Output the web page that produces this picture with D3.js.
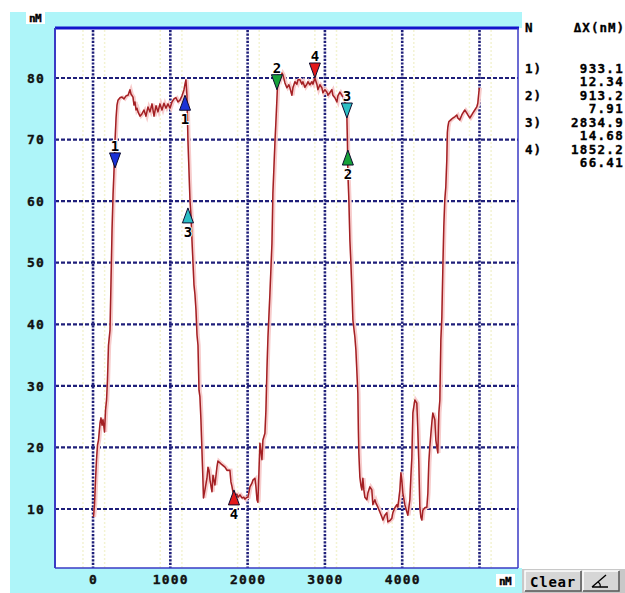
<!DOCTYPE html>
<html><head><meta charset="utf-8">
<script src="https://cdn.jsdelivr.net/npm/d3@7"></script>
<style>
html,body{margin:0;padding:0;background:#fff;}
svg{display:block;}
text{font-family:"DejaVu Sans Mono",monospace;font-weight:bold;}
</style>
</head><body>
<svg id="c" width="625" height="593"></svg>
<script>
// ---------- data ----------
const trace = [[6,8.7],[19,10.7],[32,14.7],[45,18.0],[58,20.4],[71,21.2],[91,24.0],[103,24.8],[116,23.6],[129,24.5],
[149,22.5],[162,26.1],[175,27.7],[187,31.0],[200,36.6],[220,39.1],[233,47.2],[246,55.3],[259,61.0],[272,65.1],
[285,69.9],[298,73.5],[310,75.6],[323,76.4],[349,76.8],[375,76.9],[401,76.6],[427,77.1],[453,77.2],[478,78.1],
[491,77.4],[517,76.9],[530,75.6],[543,76.1],[556,74.8],[569,75.1],[582,74.5],[608,73.8],[634,74.2],[659,74.8],
[685,73.8],[711,75.3],[737,74.5],[763,75.8],[789,73.8],[815,75.5],[840,74.5],[866,75.8],[892,74.8],[918,75.9],
[944,75.1],[970,75.8],[996,75.1],[1021,76.1],[1047,76.6],[1073,76.8],[1099,76.1],[1125,76.4],[1151,77.1],[1177,78.1],
[1190,79.0],[1202,79.7],[1215,77.2],[1228,69.9],[1241,65.1],[1254,60.2],[1267,57.8],[1280,53.7],[1293,50.1],[1306,46.4],
[1319,44.8],[1332,42.3],[1345,38.3],[1358,36.6],[1371,29.3],[1383,28.2],[1396,24.5],[1409,19.6],[1422,14.7],[1429,11.8],
[1448,13.1],[1474,15.0],[1487,16.8],[1500,16.3],[1513,14.7],[1539,12.8],[1552,15.5],[1577,13.9],[1603,16.8],[1616,17.8],
[1642,17.5],[1668,17.2],[1707,16.8],[1733,16.3],[1771,16.3],[1784,14.4],[1797,13.7],[1810,12.8],[1836,12.3],[1862,12.4],
[1875,11.9],[1901,12.3],[1927,11.8],[1952,11.9],[1965,11.6],[1991,11.9],[2004,11.9],[2030,13.6],[2056,14.2],[2069,14.7],
[2095,15.0],[2108,13.6],[2121,11.5],[2133,11.1],[2140,13.6],[2159,20.7],[2185,18.0],[2198,21.2],[2224,22.3],[2237,26.1],
[2250,32.6],[2263,37.9],[2289,45.1],[2315,53.2],[2327,61.3],[2353,69.4],[2373,74.8],[2386,78.5],[2392,80.5],[2418,79.7],
[2444,80.8],[2457,80.5],[2483,79.2],[2508,78.4],[2534,78.9],[2547,78.4],[2573,77.2],[2586,78.4],[2612,79.4],[2638,79.0],
[2651,79.7],[2677,79.7],[2702,79.0],[2715,79.4],[2741,78.5],[2767,79.0],[2780,79.4],[2806,78.9],[2832,79.4],[2845,79.0],
[2870,80.0],[2896,79.0],[2909,78.1],[2935,78.9],[2961,78.4],[2974,77.6],[3000,78.1],[3026,77.7],[3039,77.2],[3064,77.6],
[3090,78.1],[3103,77.2],[3129,76.8],[3155,76.1],[3168,77.1],[3194,77.7],[3220,77.2],[3233,76.8],[3258,76.1],[3284,73.7],
[3291,69.9],[3297,64.6],[3310,60.2],[3323,53.7],[3336,50.0],[3349,45.6],[3362,40.7],[3388,37.9],[3401,35.8],[3426,28.8],
[3433,22.8],[3439,19.1],[3452,15.2],[3465,13.9],[3478,13.1],[3491,15.0],[3504,13.1],[3517,11.9],[3543,11.5],[3556,12.6],
[3582,13.6],[3607,13.1],[3620,10.7],[3646,11.5],[3659,11.0],[3685,10.3],[3711,9.5],[3737,8.7],[3750,8.2],[3776,9.0],
[3801,9.4],[3814,7.9],[3840,8.1],[3866,8.5],[3879,9.4],[3905,10.2],[3931,10.7],[3944,10.3],[3970,13.1],[3983,15.9],
[3995,14.7],[4008,12.6],[4034,10.7],[4060,9.5],[4073,9.0],[4099,11.5],[4112,15.2],[4125,18.4],[4138,25.6],[4163,27.7],
[4189,27.2],[4202,22.8],[4215,17.5],[4228,10.3],[4241,8.7],[4254,8.2],[4267,9.8],[4293,10.2],[4319,10.3],[4332,12.6],
[4344,17.5],[4357,20.1],[4383,24.0],[4396,25.6],[4422,24.5],[4435,21.2],[4448,20.1],[4461,19.1],[4474,25.6],[4487,27.7],
[4500,37.5],[4513,41.2],[4526,49.3],[4538,55.8],[4551,60.2],[4564,62.3],[4577,66.7],[4584,71.1],[4590,72.0],[4603,72.9],
[4629,73.2],[4655,73.5],[4681,73.7],[4707,74.0],[4719,73.5],[4745,73.2],[4771,74.0],[4784,74.3],[4810,74.8],[4836,74.3],
[4849,74.0],[4875,73.5],[4900,74.0],[4913,74.3],[4939,74.8],[4965,75.3],[4978,75.9],[4991,77.6],[4998,78.4]];

const xTickValues = [0, 1000, 2000, 3000, 4000];
const xGridValues = [0, 1000, 2000, 3000, 4000, 5000];
const yTickValues = [10, 20, 30, 40, 50, 60, 70, 80];
const xDomain = [-492, 5498];
const yDomain = [0.42, 88.12];

const markerIds  = [1, 1, 2, 2, 3, 3, 4, 4];
const markerDirs = ["down", "up", "down", "up", "down", "up", "down", "up"];
const markerX    = [285, 1190, 2379, 3297, 3284, 1228, 2870, 1823];
const markerY    = [65.4, 77.2, 78.1, 68.3, 73.5, 58.9, 80.0, 13.1];

const legendIds = ["1)", "2)", "3)", "4)"];
const legendDX  = [933.1, 913.2, 2834.9, 1852.2];
const legendDY  = [12.34, 7.91, 14.68, 66.41];
const unitLabel = "nM";

// ---------- drawing ----------
const svg = d3.select("#c");
const W = 625, H = 593;
const P = {l: 55, t: 28, r: 518, b: 568};
const x = d3.scaleLinear().domain(xDomain).range([P.l, P.r]);
const y = d3.scaleLinear().domain(yDomain).range([P.b, P.t]);
const markerColor = {1: "#1a32d6", 2: "#17a23a", 3: "#2cbfc4", 4: "#e2191b"};

svg.append("rect").attr("width", W).attr("height", H).attr("fill", "#fff");
svg.append("rect").attr("x", 10).attr("y", 12).attr("width", 512).attr("height", H - 12).attr("fill", "#aef5f9");
svg.append("rect").attr("x", P.r).attr("y", P.t).attr("width", W - P.r).attr("height", P.b - P.t).attr("fill", "#fff");
svg.append("rect").attr("x", P.l).attr("y", P.t).attr("width", P.r - P.l).attr("height", P.b - P.t).attr("fill", "#fff");

// faint yellow helper lines next to vertical grid
const faint = svg.append("g");
xGridValues.forEach(v => {
  [-130, 150].forEach(o => {
    faint.append("line").attr("x1", x(v + o)).attr("x2", x(v + o)).attr("y1", P.t + 2).attr("y2", P.b)
      .attr("stroke", "#f3f3d2").attr("stroke-width", 1.5).attr("stroke-dasharray", "2,2");
  });
});

// grid
const grid = svg.append("g");
grid.selectAll(".hg").data(yTickValues).enter().append("line")
  .attr("x1", P.l).attr("x2", P.r).attr("y1", d => y(d)).attr("y2", d => y(d))
  .attr("stroke", "#1f1f7a").attr("stroke-width", 2.2).attr("stroke-dasharray", "4,2");
grid.selectAll(".vg").data(xGridValues).enter().append("line")
  .attr("x1", d => x(d)).attr("x2", d => x(d)).attr("y1", P.t + 2).attr("y2", P.b)
  .attr("stroke", "#1f1f7a").attr("stroke-width", 2.6).attr("stroke-dasharray", "2.2,1.4");

// curve
svg.append("clipPath").attr("id", "pc").append("rect")
  .attr("x", P.l).attr("y", P.t).attr("width", P.r - P.l).attr("height", P.b - P.t);
const line = d3.line().x(d => x(d[0])).y(d => y(d[1]));
const cg = svg.append("g").attr("clip-path", "url(#pc)");
cg.append("path").datum(trace).attr("d", line).attr("fill", "none")
  .attr("stroke", "#f7cccc").attr("stroke-width", 3.4).attr("transform", "translate(1,0)");
cg.append("path").datum(trace).attr("d", line).attr("fill", "none")
  .attr("stroke", "#a32024").attr("stroke-width", 1.5).attr("stroke-linejoin", "round");

// border
svg.append("line").attr("x1", P.l).attr("x2", P.r + 1).attr("y1", P.t).attr("y2", P.t).attr("stroke", "#1414cc").attr("stroke-width", 3);
svg.append("line").attr("x1", P.l).attr("x2", P.l).attr("y1", P.t).attr("y2", P.b).attr("stroke", "#3a3ac4").attr("stroke-width", 2);
svg.append("line").attr("x1", P.r).attr("x2", P.r).attr("y1", P.t).attr("y2", P.b).attr("stroke", "#3a3ac4").attr("stroke-width", 1.5);
svg.append("line").attr("x1", P.l).attr("x2", P.r).attr("y1", P.b).attr("y2", P.b).attr("stroke", "#3a3ac4").attr("stroke-width", 1.5);

// markers
const mg = svg.append("g");
markerIds.forEach((id, i) => {
  const px = x(markerX[i]), py = y(markerY[i]);
  const w = 5.5, h = 15;
  const down = markerDirs[i] === "down";
  const pts = down ? [[px, py], [px - w, py - h], [px + w, py - h]]
                   : [[px, py], [px - w, py + h], [px + w, py + h]];
  mg.append("path").attr("d", "M" + pts.map(p => p.join(",")).join("L") + "Z")
    .attr("fill", markerColor[id]).attr("stroke", "#0c0c30").attr("stroke-width", 1);
  mg.append("text").attr("x", px).attr("y", down ? py - h - 7 : py + h + 9)
    .attr("text-anchor", "middle").attr("dominant-baseline", "central")
    .attr("font-size", 14).attr("fill", "#000")
    .attr("stroke", "#fff").attr("stroke-width", 2).attr("paint-order", "stroke")
    .text(id);
});

// axes (labels only)
function styleTicks(sel) {
  sel.select(".domain").remove();
  sel.selectAll("text").attr("font-size", 13).attr("letter-spacing", 1.2).attr("fill", "#111")
    .attr("stroke", "#111").attr("stroke-width", 0.35)
    .attr("font-family", "DejaVu Sans Mono").attr("font-weight", "bold");
}
const yAxis = d3.axisLeft(y).tickValues(yTickValues).tickSize(0).tickPadding(0);
styleTicks(svg.append("g").attr("transform", "translate(45,0)").call(yAxis));
const xAxis = d3.axisBottom(x).tickValues(xTickValues).tickSize(0).tickPadding(0).tickFormat(d3.format("d"));
styleTicks(svg.append("g").attr("transform", "translate(0,575)").call(xAxis));

// unit boxes
function unitBox(cx, cy) {
  svg.append("rect").attr("x", cx - 9).attr("y", cy - 7).attr("width", 19).attr("height", 13).attr("fill", "#fff");
  svg.append("text").attr("x", cx).attr("y", cy).attr("text-anchor", "middle").attr("dominant-baseline", "central")
    .attr("font-size", 11).attr("letter-spacing", -0.5).attr("fill", "#000")
    .attr("stroke", "#000").attr("stroke-width", 0.4).text(unitLabel);
}
unitBox(35, 18);
unitBox(505, 581);

// buttons area
svg.append("rect").attr("x", 522).attr("y", P.b + 1).attr("width", W - 522).attr("height", H - P.b).attr("fill", "#c8c8c8");
function button(x0, w) {
  const g = svg.append("g");
  g.append("rect").attr("x", x0).attr("y", 571).attr("width", w).attr("height", 20).attr("fill", "#d6d6d6");
  g.append("path").attr("d", `M${x0},591V571H${x0 + w}`).attr("fill", "none").attr("stroke", "#fff").attr("stroke-width", 1.5);
  g.append("path").attr("d", `M${x0 + w},571V591H${x0}`).attr("fill", "none").attr("stroke", "#555").attr("stroke-width", 1.5);
  return g;
}
button(525, 56).append("text").attr("x", 553).attr("y", 582).attr("text-anchor", "middle").attr("dominant-baseline", "central")
  .attr("font-family", "DejaVu Serif").attr("font-size", 14).attr("letter-spacing", 0.8).attr("fill", "#000").text("Clear");
const ab = button(583, 36);
ab.append("path").attr("d", "M592,587L606,575M592,587H608").attr("stroke", "#000").attr("stroke-width", 1.4).attr("fill", "none");
ab.append("path").attr("d", "M598,582Q601,584 600,587").attr("stroke", "#000").attr("stroke-width", 1.2).attr("fill", "none");

// legend
const lg = svg.append("g").attr("font-size", 12.5).attr("fill", "#000").attr("stroke", "#000").attr("stroke-width", 0.35);
lg.append("text").attr("x", 525).attr("y", 27).attr("dominant-baseline", "central").text("N");
lg.append("text").attr("x", 625).attr("y", 27).attr("text-anchor", "end").attr("dominant-baseline", "central")
  .attr("letter-spacing", 1).text("ΔX(" + unitLabel + ")");
legendIds.forEach((id, i) => {
  const r0 = 68 + i * 27;
  lg.append("text").attr("x", 525).attr("y", r0).attr("dominant-baseline", "central").attr("letter-spacing", 1).text(id);
  lg.append("text").attr("x", 624).attr("y", r0).attr("text-anchor", "end").attr("dominant-baseline", "central")
    .attr("letter-spacing", 1.3).text(legendDX[i].toFixed(1));
  lg.append("text").attr("x", 624).attr("y", r0 + 13.5).attr("text-anchor", "end").attr("dominant-baseline", "central")
    .attr("letter-spacing", 1.3).text(legendDY[i].toFixed(2));
});
</script>
</body></html>
